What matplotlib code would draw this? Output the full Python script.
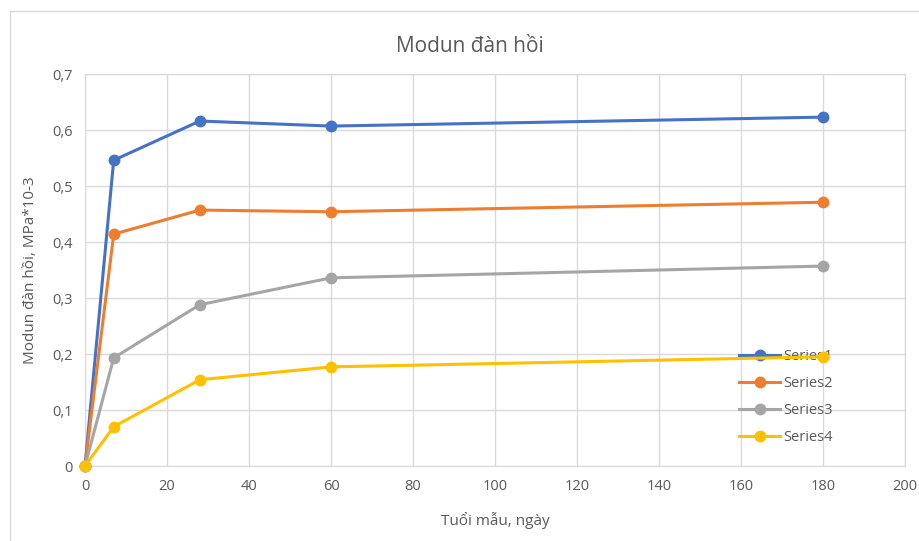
import matplotlib
matplotlib.use("Agg")
import matplotlib.pyplot as plt
from matplotlib.patches import Rectangle
from matplotlib.ticker import FuncFormatter, MultipleLocator

plt.rcParams['font.family'] = ['Open Sans', 'DejaVu Sans']

days = [0, 7, 28, 60, 180]
series1 = [0, 0.546, 0.616, 0.607, 0.623]
series2 = [0, 0.414, 0.457, 0.454, 0.471]
series3 = [0, 0.193, 0.288, 0.336, 0.357]
series4 = [0, 0.070, 0.154, 0.177, 0.195]
names = ["Series1", "Series2", "Series3", "Series4"]
colors = ["#4472C4", "#ED7D31", "#A5A5A5", "#FFC000"]

W, H = 919, 541
fig = plt.figure(figsize=(W / 100, H / 100), dpi=100)
fig.patch.set_facecolor("white")

# chart border
fig.add_artist(Rectangle((10 / W, -0.1), 1.2, 1 - 11 / H + 0.1, transform=fig.transFigure,
                         fill=False, edgecolor="#D9D9D9", linewidth=1))

ax = fig.add_axes([85 / W, 75 / H, (905 - 85) / W, (466 - 74) / H])
for name, vals, c in zip(names, [series1, series2, series3, series4], colors):
    ax.plot(days, vals, color=c, linewidth=2.2, marker="o", markersize=7.5,
            label=name, clip_on=False, zorder=3)

ax.set_xlim(0, 200)
ax.set_ylim(0, 0.7)
ax.xaxis.set_major_locator(MultipleLocator(20))
ax.yaxis.set_major_locator(MultipleLocator(0.1))
ax.yaxis.set_major_formatter(FuncFormatter(lambda v, p: "0" if abs(v) < 1e-9 else f"{v:.1f}".replace(".", ",")))
ax.grid(True, color="#D9D9D9", linewidth=1)
ax.set_axisbelow(True)
for s in ax.spines.values():
    s.set_color("#D9D9D9")
ax.tick_params(length=0, labelsize=10.5, colors="#595959", pad=9)

ax.set_xlabel("Tuổi mẫu, ngày", fontsize=11, color="#595959", labelpad=13)
ax.set_ylabel("Modun đàn hồi, MPa*10-3", fontsize=11, color="#595959", labelpad=10)
fig.text(470 / W, 1 - 46 / H, "Modun đàn hồi", ha="center", va="center", fontsize=15, color="#595959")

leg = ax.legend(loc="upper left", bbox_to_anchor=(732 / W, 1 - 342 / H), bbox_transform=fig.transFigure,
                frameon=False, fontsize=10.5, labelcolor="#595959", handlelength=2.8,
                handletextpad=0.2, labelspacing=0.82, borderpad=0)
leg.set_zorder(2)

fig.savefig("out.png", dpi=100)
